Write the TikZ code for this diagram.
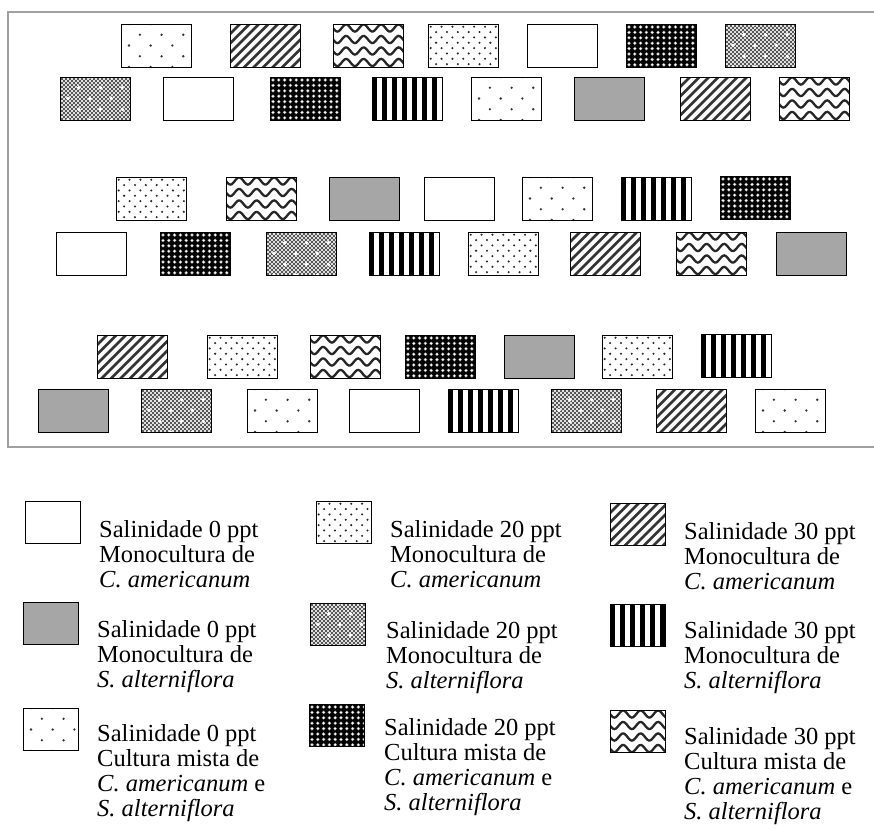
\documentclass[tikz,border=0pt]{standalone}
\usepackage{fontspec}
\setmainfont{Liberation Serif}
\definecolor{graybox}{HTML}{A6A6A6}
\definecolor{framec}{HTML}{A0A0A0}
\definecolor{checkc}{HTML}{484848}

\newcommand\patsparse[2]{%
  \foreach \ii in {0,...,4}{\foreach \jj in {0,...,3}{%
    \pgfmathsetmacro\xx{8+21.7*\jj+10.85*mod(\ii,2)}%
    \fill[#1] (\xx,10.75*\ii) circle[radius=#2];}}}
\newcommand\patdense{%
  \foreach \ii in {0,...,8}{\foreach \jj in {0,...,7}{%
    \pgfmathsetmacro\xx{2.7+10.85*\jj+5.425*mod(\ii,2)}%
    \fill[black!85] (\xx,2.7+5.35*\ii) circle[radius=1.15];}}}
\newcommand\patblack{%
  \fill[black] (-2,-2) rectangle (80,50);
  \foreach \ii in {0,...,8}{\foreach \jj in {0,...,12}{%
    \fill[black!45] (3+5.8*\jj,3+5.4*\ii) circle[radius=1.9];
    \fill[white] (3+5.8*\jj,3+5.4*\ii) circle[radius=1.15];}}}
\newcommand\patcheck{%
  \fill[checkc] (-2,-2) rectangle (80,50);
  \foreach \k in {-14,...,32}{%
    \draw[white, line width=0.5pt] (4*\k,-2) -- ++(52,52);
    \draw[white, line width=0.5pt] (4*\k,-2) -- ++(-52,52);}
  \patsparse{white}{1.9}}
\newcommand\patdiag{%
  \foreach \k in {-8,...,14}{\draw[black!80, line width=2.6pt] (9.5*\k,48) -- ++(50,-50);}}
\newcommand\patvert{%
  \foreach \k in {0,...,7}{\fill[black] (10*\k,-2) rectangle ++(5,52);}}
\newcommand\patwave{%
  \foreach \k in {-1,...,4}{\draw[black!85, line width=2.3pt] plot[domain=-2:75, samples=50, smooth] (\x, {4+11.5*\k+3.6*sin(20.5714*\x)});}}
\newcommand\patgray{\fill[graybox] (-2,-2) rectangle (80,50);}
\newcommand\patwhite{}

% pattern box: #1 style, #2 name, #3 x, #4 y, #5 w, #6 h, #7 pattern
\newcommand\pbox[7]{%
  \begin{scope}
    \clip (#3,#4) rectangle ++(#5,#6);
    \begin{scope}[shift={(#3,#4)}]#7\end{scope}
  \end{scope}
  \node[#1] (#2) at (#3,#4) {};}
\newcommand\tbox[4]{\pbox{bx}{#1}{#2}{#3}{70}{43}{#4}}
\newcommand\lbox[4]{\pbox{lg}{#1}{#2}{#3}{55}{42}{#4}}

\tikzset{
  bx/.style={rectangle, draw=black, line width=1.1pt, minimum width=70pt, minimum height=43pt, inner sep=0pt, anchor=north west},
  lg/.style={bx, line width=1pt, minimum width=55pt, minimum height=42pt},
  tx/.style={anchor=north west, inner sep=0pt, align=left, font=\fontsize{24.5}{25}\selectfont},
}

\begin{document}
\begin{tikzpicture}[x=1pt, y=-1pt]
\useasboundingbox (0,0) rectangle (874,828);
\fill[white] (0,0) rectangle (874,828);
\draw[framec, line width=1.3pt] (874,12) -- (8,12) -- (8,447) -- (874,447);

% row 1
\tbox{a1}{121}{24}{\patsparse{black!80}{1.3}}
\tbox{a2}{230}{24}{\patdiag}
\tbox{a3}{333}{24}{\patwave}
\tbox{a4}{428}{24}{\patdense}
\tbox{a5}{527}{24}{\patwhite}
\tbox{a6}{626}{24}{\patblack}
\tbox{a7}{725}{24}{\patcheck}
% row 2
\tbox{b1}{60}{77}{\patcheck}
\tbox{b2}{163}{77}{\patwhite}
\tbox{b3}{270}{77}{\patblack}
\tbox{b4}{372}{77}{\patvert}
\tbox{b5}{471}{77}{\patsparse{black!80}{1.3}}
\tbox{b6}{574}{77}{\patgray}
\tbox{b7}{680}{77}{\patdiag}
\tbox{b8}{779}{77}{\patwave}
% row 3
\tbox{c1}{116}{177}{\patdense}
\tbox{c2}{226}{177}{\patwave}
\tbox{c3}{329}{177}{\patgray}
\tbox{c4}{424}{177}{\patwhite}
\tbox{c5}{522}{177}{\patsparse{black!80}{1.3}}
\tbox{c6}{621}{177}{\patvert}
\tbox{c7}{720}{176}{\patblack}
% row 4
\tbox{d1}{56}{232}{\patwhite}
\tbox{d2}{160}{232}{\patblack}
\tbox{d3}{266}{232}{\patcheck}
\tbox{d4}{369}{232}{\patvert}
\tbox{d5}{468}{232}{\patdense}
\tbox{d6}{570}{232}{\patdiag}
\tbox{d7}{676}{232}{\patwave}
\tbox{d8}{776}{232}{\patgray}
% row 5
\tbox{e1}{97}{335}{\patdiag}
\tbox{e2}{207}{335}{\patdense}
\tbox{e3}{310}{335}{\patwave}
\tbox{e4}{405}{335}{\patblack}
\tbox{e5}{504}{335}{\patgray}
\tbox{e6}{602}{335}{\patdense}
\tbox{e7}{701}{334}{\patvert}
% row 6
\tbox{f1}{38}{389}{\patgray}
\tbox{f2}{141}{389}{\patcheck}
\tbox{f3}{247}{389}{\patsparse{black!80}{1.3}}
\tbox{f4}{349}{389}{\patwhite}
\tbox{f5}{448}{389}{\patvert}
\tbox{f6}{551}{389}{\patcheck}
\tbox{f7}{656}{389}{\patdiag}
\tbox{f8}{755}{389}{\patsparse{black!80}{1.3}}

% legend
\lbox{l1}{25}{501}{\patwhite}
\node[tx] (t1) at (99,520) {Salinidade 0 ppt\\Monocultura de\\\textit{C. americanum}};
\lbox{l2}{23}{602}{\patgray}
\node[tx] (t2) at (97,620) {Salinidade 0 ppt\\Monocultura de\\\textit{S. alterniflora}};
\lbox{l3}{23}{708}{\patsparse{black!80}{1.3}}
\node[tx] (t3) at (97,724) {Salinidade 0 ppt\\Cultura mista de\\\textit{C. americanum} e\\\textit{S. alterniflora}};

\lbox{l4}{316}{501}{\patdense}
\node[tx] (t4) at (390,520) {Salinidade 20 ppt\\Monocultura de\\\textit{C. americanum}};
\lbox{l5}{310}{603}{\patcheck}
\node[tx] (t5) at (386,621) {Salinidade 20 ppt\\Monocultura de\\\textit{S. alterniflora}};
\lbox{l6}{309}{704}{\patblack}
\node[tx] (t6) at (384,718) {Salinidade 20 ppt\\Cultura mista de\\\textit{C. americanum} e\\\textit{S. alterniflora}};

\lbox{l7}{610}{503}{\patdiag}
\node[tx] (t7) at (684,522) {Salinidade 30 ppt\\Monocultura de\\\textit{C. americanum}};
\lbox{l8}{610}{604}{\patvert}
\node[tx] (t8) at (684,621) {Salinidade 30 ppt\\Monocultura de\\\textit{S. alterniflora}};
\lbox{l9}{610}{710}{\patwave}
\node[tx] (t9) at (684,727) {Salinidade 30 ppt\\Cultura mista de\\\textit{C. americanum} e\\\textit{S. alterniflora}};
\end{tikzpicture}
\end{document}
